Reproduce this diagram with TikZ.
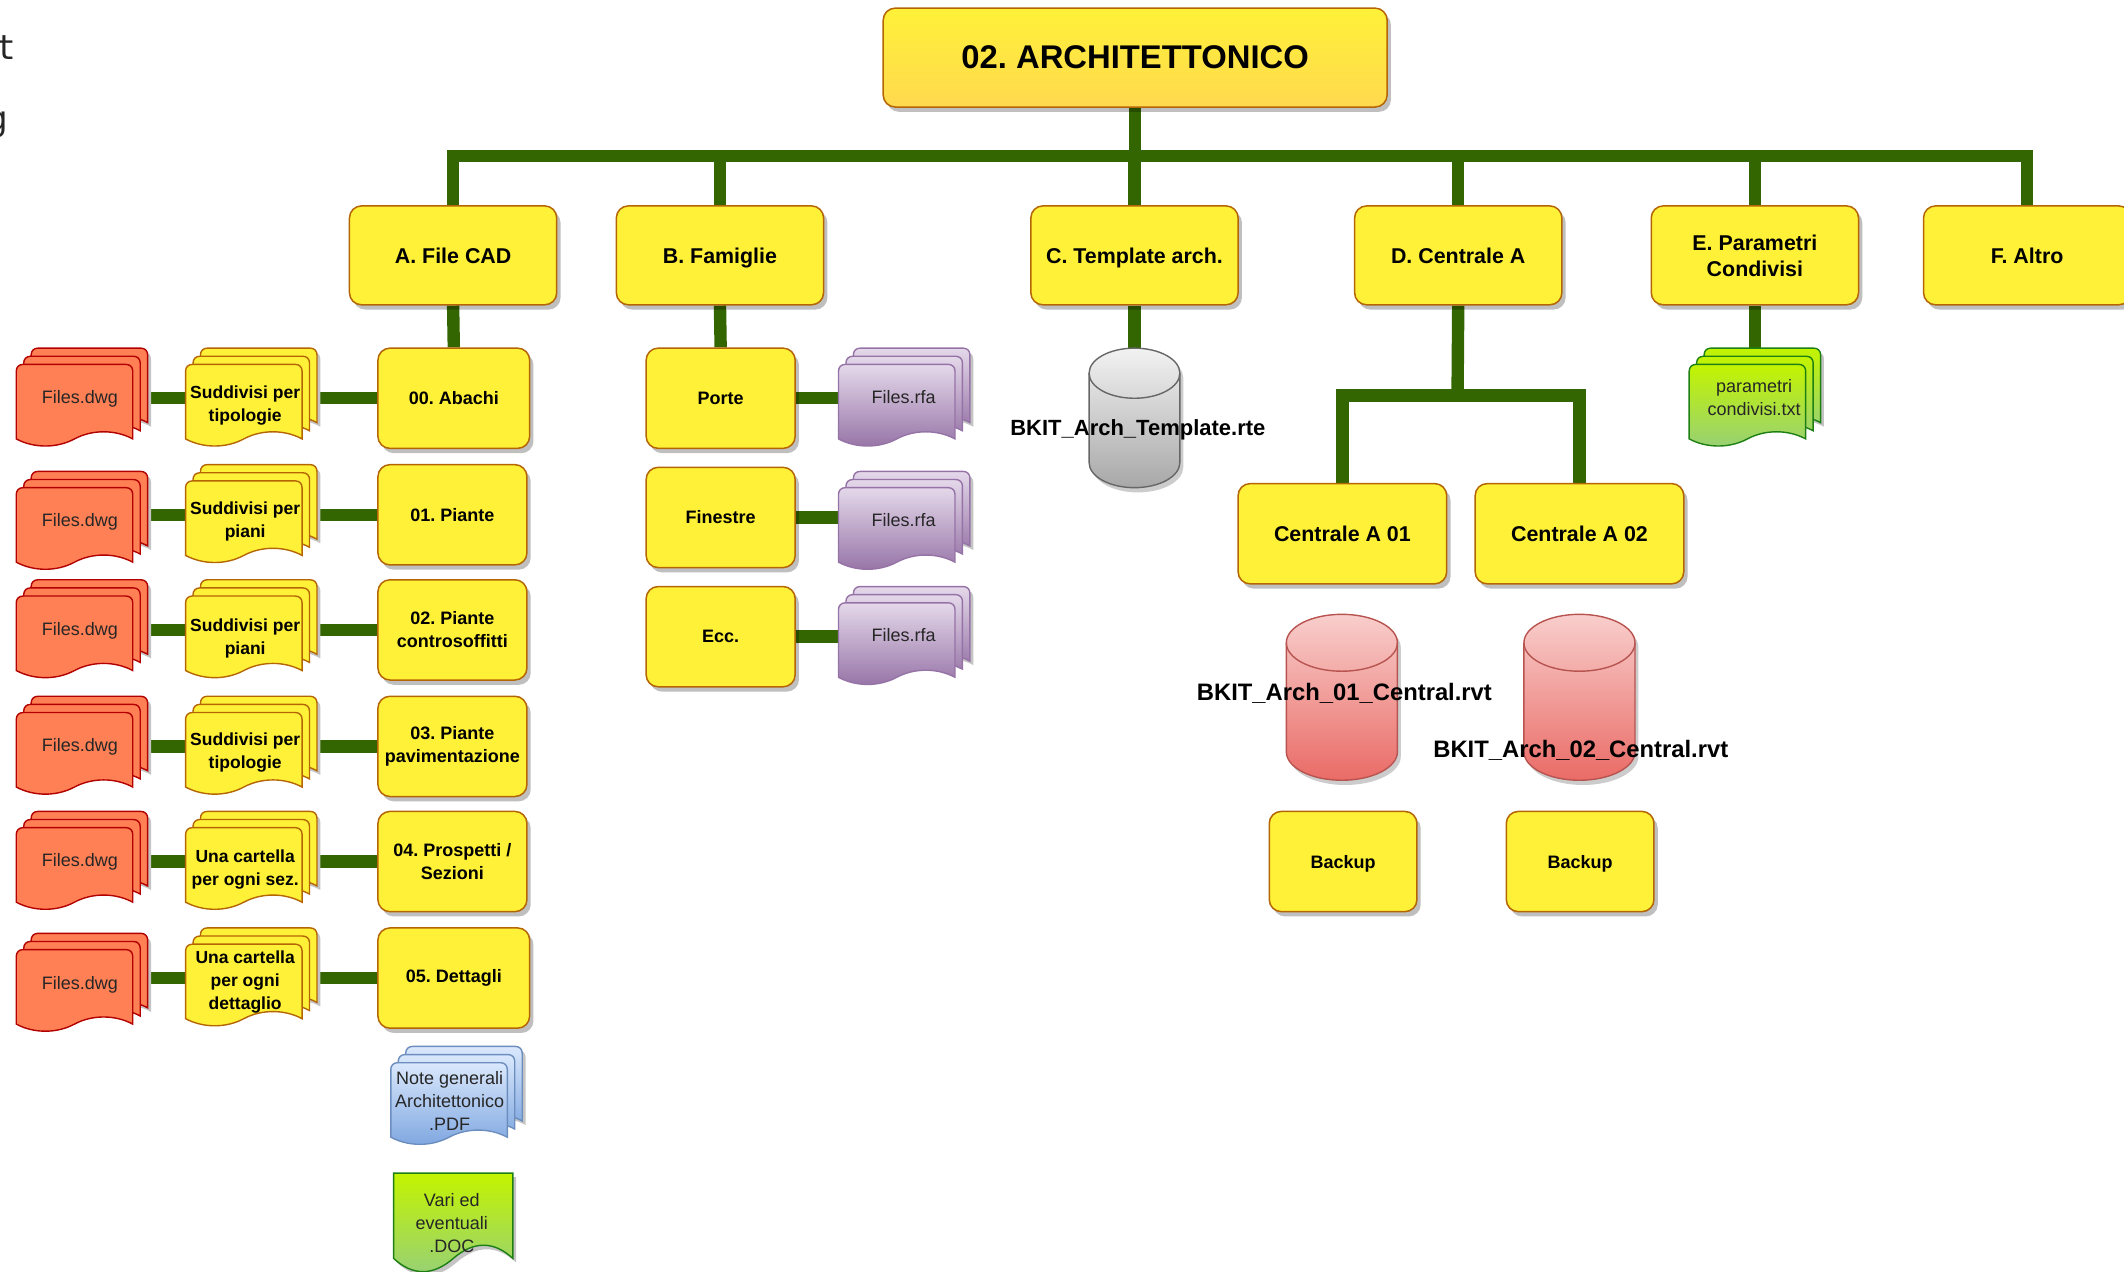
\documentclass[tikz,border=0pt]{standalone}
\usepackage{fontspec}
\setmainfont{Liberation Sans}
\newfontfamily\monof{DejaVu Sans Mono}
\usetikzlibrary{backgrounds,shadows}
\frenchspacing
\definecolor{busgreen}{HTML}{336600}
\definecolor{ybox}{HTML}{FFF138}
\definecolor{ystroke}{HTML}{B46504}
\definecolor{shadowgray}{HTML}{C4C4C4}
\definecolor{titlelow}{HTML}{FFD94F}
\definecolor{redfill}{HTML}{FF8055}
\definecolor{redline}{HTML}{B20000}
\definecolor{purtop}{HTML}{E4D8EA}
\definecolor{purlow}{HTML}{9673A6}
\definecolor{blutop}{HTML}{DAE8FC}
\definecolor{blulow}{HTML}{7EA6E0}
\definecolor{bluline}{HTML}{6C8EBF}
\definecolor{grntop}{HTML}{C3F400}
\definecolor{grnlow}{HTML}{97D077}
\definecolor{grnline}{HTML}{1E7F12}
\definecolor{graytop}{HTML}{F2F2F2}
\definecolor{graylow}{HTML}{A8A8A8}
\definecolor{grayline}{HTML}{666666}
\definecolor{rostop}{HTML}{F8CECC}
\definecolor{roslow}{HTML}{EA6B66}
\definecolor{rosline}{HTML}{B85450}
\tikzset{
  conn/.style={draw=busgreen,line width=6.2pt},
  boxshadow/.style={drop shadow={shadow xshift=1.9pt,shadow yshift=-2.4pt,fill=black,opacity=.25}},
  basebox/.style={rectangle,draw=ystroke,line width=.75pt,fill=ybox,rounded corners=6pt,inner sep=0pt,align=center,boxshadow},
  bigbox/.style={basebox,font=\fontsize{10.7}{13}\selectfont\bfseries},
  smallbox/.style={basebox,font=\fontsize{9}{11.5}\selectfont\bfseries},
  titlebox/.style={basebox,top color=ybox,bottom color=titlelow,font=\fontsize{16.4}{19}\selectfont\bfseries},
  doctxt/.style={inner sep=0pt,align=center,font=\fontsize{9}{11.5}\selectfont,text=black!85},
  docbold/.style={inner sep=0pt,align=center,font=\fontsize{8.75}{11.5}\selectfont\bfseries},
  cyltxt/.style={inner sep=0pt,font=\fontsize{11}{13}\selectfont\bfseries},
  cyltxtlarge/.style={inner sep=0pt,font=\fontsize{11.9}{14}\selectfont\bfseries},
  monotxt/.style={inner sep=0pt,anchor=base east,text=black!85,font=\fontsize{17}{20}\selectfont\monof},
  hook/.style={inner sep=0pt,minimum width=65.7pt,minimum height=48.7pt,anchor=north west},
  docred/.style={fill=redfill,draw=redline,line width=.7pt},
  docyel/.style={fill=ybox,draw=ystroke,line width=.7pt},
  docpur/.style={top color=purtop,bottom color=purlow,draw=purlow,line width=.7pt},
  docblu/.style={top color=blutop,bottom color=blulow,draw=bluline,line width=.7pt},
  docgrn/.style={top color=grntop,bottom color=grnlow,draw=grnline,line width=.7pt},
  cylgray/.style={top color=graytop,bottom color=graylow,draw=grayline,line width=.7pt},
  cylred/.style={top color=rostop,bottom color=roslow,draw=rosline,line width=.7pt},
  cylgrayline/.style={draw=grayline,line width=.7pt},
  cylredline/.style={draw=rosline,line width=.7pt},
}
% text whose descender must not move it off centre
\newcommand{\nod}[1]{\raisebox{0pt}[\height][0pt]{#1}}
% one sheet of a document stack: (x,y) is its top left
\newcommand{\docshape}{(0,55) -- (0,5) .. controls (0,2) and (2,0) .. (5,0) -- (81,0) .. controls (84,0) and (86,2) .. (86,5) -- (86,55) .. controls (73,48) and (56,48) .. (43,55) .. controls (30,62) and (13,62) .. (0,55) -- cycle}
\newcommand{\stackdoc}[4]{%
  \fill[shadowgray,shift={(#3+13.5,#4+3)}] \docshape;
  \path[#2,shift={(#3+11,#4)}] \docshape;
  \path[#2,shift={(#3+5.5,#4+6)}] \docshape;
  \path[#2,shift={(#3,#4+12)}] \docshape;
  \node[hook] (#1) at (#3,#4) {};
}
\newcommand{\bx}[7]{%
  \node[#2,minimum width={(#5-#3)*0.6773pt},minimum height={(#6-#4)*0.6773pt}] (#1) at ({(#3+#5)/2},{(#4+#6)/2}) {#7};
}
\newcommand{\cyl}[7]{% name, style, x, y, rx, h, ry
  \fill[black,fill opacity=.2,shift={(#3+2.5,#4+3.5)}] (0,#7) arc[start angle=180,end angle=360,x radius=#5,y radius=#7] -- ({2*#5},#6-#7) arc[start angle=0,end angle=180,x radius=#5,y radius=#7] -- cycle;
  \path[#2,shift={(#3,#4)}] (0,#7) arc[start angle=180,end angle=360,x radius=#5,y radius=#7] -- ({2*#5},#6-#7) arc[start angle=0,end angle=180,x radius=#5,y radius=#7] -- cycle;
  \draw[#2line,shift={(#3,#4)}] (0,#7) arc[start angle=180,end angle=0,x radius=#5,y radius=#7];
  \coordinate (#1) at ({#3+#5},#4);
}
\begin{document}
\begin{tikzpicture}[x=0.6773pt,y=-0.6773pt]
\useasboundingbox (0,0) rectangle (1568,939);

% clipped text fragments at the left edge
\node[monotxt] (frag1) at (12,44) {t};
\node[monotxt] (frag2) at (6,96) {g};

% top
\bx{title}{titlebox}{652}{6}{1024}{79}{02. ARCHITETTONICO}
\bx{A}{bigbox}{258}{152}{411}{225}{A. File CAD}
\bx{B}{bigbox}{455}{152}{608}{225}{\nod{B. Famiglie}}
\bx{C}{bigbox}{761}{152}{914}{225}{\nod{C. Template arch.}}
\bx{D}{bigbox}{1000}{152}{1153}{225}{D. Centrale A}
\bx{E}{bigbox}{1219}{152}{1372}{225}{E. Parametri\\Condivisi}
\bx{F}{bigbox}{1420}{152}{1573}{225}{F. Altro}

% column A boxes
\bx{a0}{smallbox}{279}{257}{391}{331}{00. Abachi}
\bx{a1}{smallbox}{279}{343}{389}{417}{01. Piante}
\bx{a2}{smallbox}{279}{428}{389}{502}{02. Piante\\controsoffitti}
\bx{a3}{smallbox}{279}{514}{389}{588}{03. Piante\\pavimentazione}
\bx{a4}{smallbox}{279}{599}{389}{673}{04. Prospetti /\\Sezioni}
\bx{a5}{smallbox}{279}{685}{391}{759}{05. Dettagli}

% yellow stacks
\stackdoc{y0}{docyel}{137}{257}
\node[docbold] (y0t) at (181,299.5) {Suddivisi per\\tipologie};
\stackdoc{y1}{docyel}{137}{343}
\node[docbold] (y1t) at (181,385) {Suddivisi per\\piani};
\stackdoc{y2}{docyel}{137}{428}
\node[docbold] (y2t) at (181,471) {Suddivisi per\\piani};
\stackdoc{y3}{docyel}{137}{514}
\node[docbold] (y3t) at (181,555.5) {Suddivisi per\\tipologie};
\stackdoc{y4}{docyel}{137}{599}
\node[docbold] (y4t) at (181,642) {Una cartella\\per ogni sez.};
\stackdoc{y5}{docyel}{137}{685}
\node[docbold] (y5t) at (181,725) {Una cartella\\per ogni\\dettaglio};

% red stacks
\stackdoc{r0}{docred}{12}{257}
\node[doctxt] (r0t) at (59,293) {\nod{Files.dwg}};
\stackdoc{r1}{docred}{12}{348}
\node[doctxt] (r1t) at (59,384) {\nod{Files.dwg}};
\stackdoc{r2}{docred}{12}{428}
\node[doctxt] (r2t) at (59,464) {\nod{Files.dwg}};
\stackdoc{r3}{docred}{12}{514}
\node[doctxt] (r3t) at (59,550) {\nod{Files.dwg}};
\stackdoc{r4}{docred}{12}{599}
\node[doctxt] (r4t) at (59,635) {\nod{Files.dwg}};
\stackdoc{r5}{docred}{12}{689}
\node[doctxt] (r5t) at (59,726) {\nod{Files.dwg}};

% notes
\stackdoc{notes}{docblu}{288.5}{772.5}
\node[doctxt] (notest) at (332,813) {Note generali\\Architettonico\\.PDF};
\fill[shadowgray,shift={(293,869)}] (0,0) -- (88,0) -- (88,63) .. controls (74,50) and (59,50) .. (44,63) .. controls (29,76) and (14,76) .. (0,63) -- cycle;
\path[docgrn,shift={(290.6,866)}] (0,0) -- (88,0) -- (88,63) .. controls (74,50) and (59,50) .. (44,63) .. controls (29,76) and (14,76) .. (0,63) -- cycle;
\node[doctxt] (vari) at (333.5,903) {Vari ed\\eventuali\\.DOC};

% column B
\bx{b0}{smallbox}{477}{257}{587}{331}{\nod{Porte}}
\bx{b1}{smallbox}{477}{345}{587}{419}{Finestre}
\bx{b2}{smallbox}{477}{433}{587}{507}{Ecc.}
\stackdoc{p0}{docpur}{619}{257}
\node[doctxt] (p0t) at (667,293) {Files.rfa};
\stackdoc{p1}{docpur}{619}{348}
\node[doctxt] (p1t) at (667,384) {Files.rfa};
\stackdoc{p2}{docpur}{619}{433}
\node[doctxt] (p2t) at (667,469) {Files.rfa};

% column C
\cyl{tmpl}{cylgray}{804}{257}{33.5}{103}{18.5}
\node[cyltxt] (tmplt) at (840,317) {BKIT\_Arch\_Template.rte};

% column D
\bx{d1}{bigbox}{914}{357}{1068}{431}{Centrale A 01}
\bx{d2}{bigbox}{1089}{357}{1243}{431}{Centrale A 02}
\cyl{c1}{cylred}{949.6}{453.5}{41}{122.5}{21}
\cyl{c2}{cylred}{1125}{453.5}{41}{122.5}{21}
\node[cyltxtlarge] (c1t) at (992.5,512) {BKIT\_Arch\_01\_Central.rvt};
\node[cyltxtlarge] (c2t) at (1167,554) {BKIT\_Arch\_02\_Central.rvt};
\bx{k1}{smallbox}{937}{599}{1046}{673}{\nod{Backup}}
\bx{k2}{smallbox}{1112}{599}{1221}{673}{\nod{Backup}}

% column E
\stackdoc{g0}{docgrn}{1247}{257}
\node[doctxt] (g0t) at (1295,293.5) {parametri\\condivisi.txt};

% connectors
\begin{scope}[on background layer]
\coordinate (bus) at (838,115);
\coordinate (dj) at (1076,292);
\draw[conn] (title.south) -- (bus);
\draw[conn] (A.north) |- (bus) -| (F.north);
\draw[conn] (B.north) -- (B.north |- bus);
\draw[conn] (C.north) -- (C.north |- bus);
\draw[conn] (D.north) -- (D.north |- bus);
\draw[conn] (E.north) -- (E.north |- bus);
\draw[conn] (A.south) -- (a0.north);
\draw[conn] (B.south) -- (b0.north);
\draw[conn] (C.south) -- (tmpl);
\draw[conn] (E.south) -- (E.south |- g0.north);
\draw[conn] (D.south) -- (dj);
\draw[conn] (d1.north) |- (dj) -| (d2.north);
\foreach \i in {0,...,5}{
  \draw[conn] (a\i.west) -- (a\i.west -| y\i.east);
  \draw[conn] (y\i.west |- a\i.west) -- (r\i.east |- a\i.west);
}
\foreach \i in {0,1,2}{
  \draw[conn] (b\i.east) -- (b\i.east -| p\i.west);
}
\end{scope}
\end{tikzpicture}
\end{document}
